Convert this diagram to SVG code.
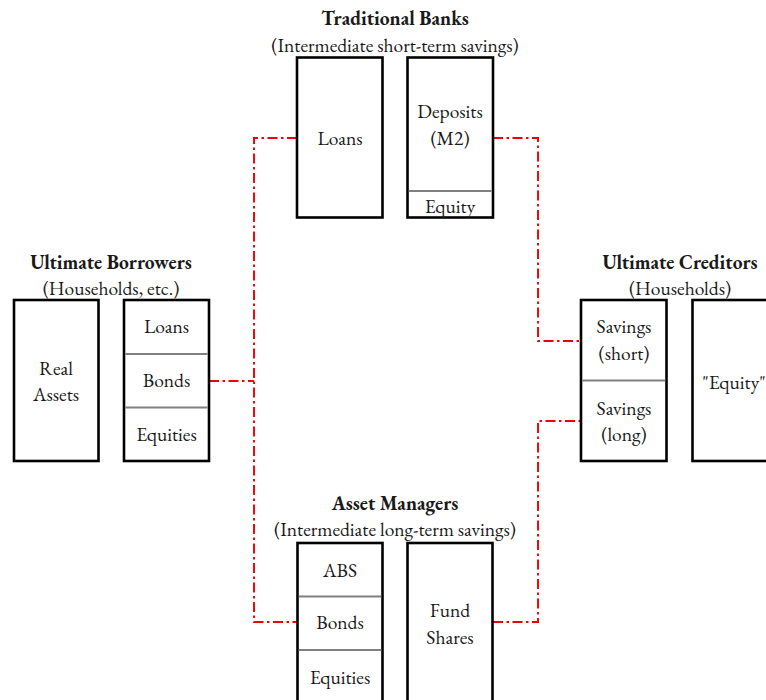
<svg xmlns="http://www.w3.org/2000/svg" width="766" height="700" viewBox="0 0 766 700">
<style>
text{font-family:"EB Garamond","Liberation Serif","DejaVu Serif",serif;font-size:19.5px;fill:#1a1a1a;text-anchor:middle;dominant-baseline:central}
.t{font-weight:bold;font-size:19.5px}
.box{fill:#fff;stroke:#000;stroke-width:2.6}
.div{stroke:#808080;stroke-width:2.2}
.con{fill:none;stroke:#f00000;stroke-width:1.9;stroke-dasharray:10 3.5 2.5 3.5}
</style>
<rect width="766" height="700" fill="#fff"/>
<g id="connectors">
<path class="con" d="M297 138 H254 V622 H297"/>
<path class="con" d="M209 381 H254"/>
<path class="con" d="M493 138 H538 V341 H581"/>
<path class="con" d="M493 622 H538 V421 H581"/>
</g>
<g id="traditional-banks">
<text class="t" x="395" y="18">Traditional Banks</text>
<text x="395" y="45">(Intermediate short-term savings)</text>
<rect class="box" x="297" y="57.5" width="85.5" height="160"/>
<text x="340" y="138">Loans</text>
<rect class="box" x="407.5" y="57.5" width="85.5" height="160"/>
<line class="div" x1="408.8" y1="191" x2="491.7" y2="191"/>
<text x="450" y="111">Deposits</text>
<text x="450" y="138">(M2)</text>
<text x="450" y="206">Equity</text>
</g>
<g id="ultimate-borrowers">
<text class="t" x="111" y="262">Ultimate Borrowers</text>
<text x="111" y="288">(Households, etc.)</text>
<rect class="box" x="14" y="300" width="84.5" height="161"/>
<text x="56" y="368">Real</text>
<text x="56" y="394">Assets</text>
<rect class="box" x="124" y="300" width="85" height="161"/>
<line class="div" x1="125.3" y1="354" x2="207.7" y2="354"/>
<line class="div" x1="125.3" y1="407.5" x2="207.7" y2="407.5"/>
<text x="166.5" y="326">Loans</text>
<text x="166.5" y="380">Bonds</text>
<text x="166.5" y="434">Equities</text>
</g>
<g id="ultimate-creditors">
<text class="t" x="680" y="262">Ultimate Creditors</text>
<text x="680" y="288">(Households)</text>
<rect class="box" x="581" y="300" width="85.5" height="161"/>
<line class="div" x1="582.3" y1="380.5" x2="665.2" y2="380.5"/>
<text x="624" y="326">Savings</text>
<text x="624" y="353">(short)</text>
<text x="624" y="408">Savings</text>
<text x="624" y="434">(long)</text>
<rect class="box" x="692.5" y="300" width="85.5" height="161"/>
<text x="734" y="382">"Equity"</text>
</g>
<g id="asset-managers">
<text class="t" x="395" y="503">Asset Managers</text>
<text x="395" y="529">(Intermediate long-term savings)</text>
<rect class="box" x="297.5" y="543" width="85" height="170"/>
<line class="div" x1="298.8" y1="596.5" x2="381.2" y2="596.5"/>
<line class="div" x1="298.8" y1="650" x2="381.2" y2="650"/>
<text x="340" y="570">ABS</text>
<text x="340" y="622">Bonds</text>
<text x="340" y="677">Equities</text>
<rect class="box" x="407.5" y="543" width="85" height="170"/>
<text x="450" y="610">Fund</text>
<text x="450" y="637">Shares</text>
</g>
</svg>
